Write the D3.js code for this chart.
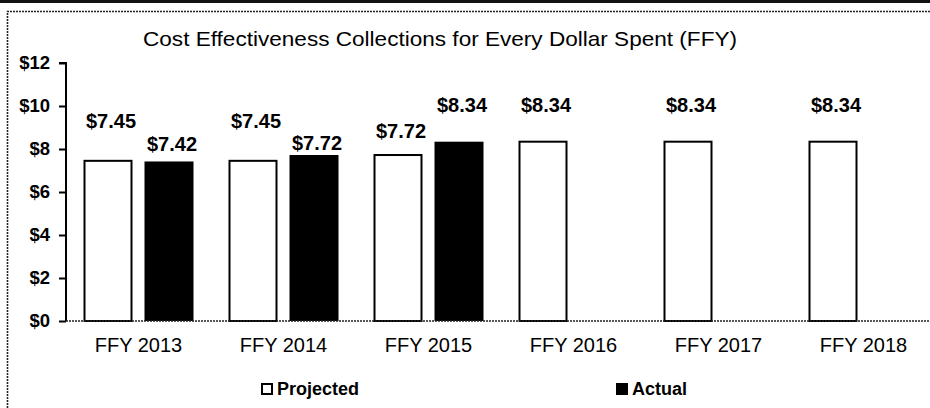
<!DOCTYPE html>
<html>
<head>
<meta charset="utf-8">
<script src="https://cdn.jsdelivr.net/npm/d3@7"></script>
<style>
  html, body { margin: 0; padding: 0; background: #fff; }
  svg { display: block; font-family: Arial, "Liberation Sans", Helvetica, sans-serif; }
</style>
</head>
<body>
<svg id="chart" width="930" height="408"></svg>
<script>
// Cost effectiveness: collections per dollar spent, by federal fiscal year
const categories = ["FFY 2013", "FFY 2014", "FFY 2015", "FFY 2016", "FFY 2017", "FFY 2018"];
const seriesNames = ["Projected", "Actual"];
const projected = [7.45, 7.45, 7.72, 8.34, 8.34, 8.34];
const actual = [7.42, 7.72, 8.34, null, null, null];
const yTickValues = [0, 2, 4, 6, 8, 10, 12];
const titleText = "Cost Effectiveness Collections for Every Dollar Spent (FFY)";

// How far each value label sits above its bar (px), per series
const labelRaise = {
  Projected: [33, 33, 17, 30, 30, 30],
  Actual: [10, 5, 30, 0, 0, 0]
};

const W = 930, H = 408;
const plot = { left: 66, right: 936, top: 63, bottom: 321 };

const svg = d3.select("#chart");

// Page furniture: dark rule at the top and the dotted chart frame
svg.append("rect").attr("x", 0).attr("y", 0).attr("width", W).attr("height", 3).attr("fill", "#111");
svg.append("path")
  .attr("d", `M7.5,${H} L7.5,11.5 L${W},11.5`)
  .attr("fill", "none").attr("stroke", "#222").attr("stroke-width", 1.6)
  .attr("stroke-dasharray", "2 1");

// Scales
const x0 = d3.scaleBand().domain(categories).range([plot.left, plot.right])
  .paddingInner(35 / 145).paddingOuter(17.5 / 145);
const x1 = d3.scaleBand().domain(seriesNames).range([0, x0.bandwidth()])
  .paddingInner(12 / 61).paddingOuter(0);
const y = d3.scaleLinear().domain([0, 12]).range([plot.bottom, plot.top]);

// Title
svg.append("text")
  .attr("x", 143).attr("y", 46)
  .attr("font-size", 21).attr("fill", "#000")
  .attr("textLength", 594).attr("lengthAdjust", "spacingAndGlyphs")
  .text(titleText);

// Bars
const rows = categories.map((c, i) => ({ cat: c, i, Projected: projected[i], Actual: actual[i] }));
const groups = svg.append("g").selectAll("g").data(rows).join("g")
  .attr("transform", d => `translate(${x0(d.cat)},0)`);

groups.selectAll("rect")
  .data(d => seriesNames.filter(s => d[s] != null).map(s => ({ s, v: d[s], i: d.i })))
  .join("rect")
  .attr("x", d => x1(d.s) + (d.s === "Projected" ? 1 : 0))
  .attr("y", d => y(d.v))
  .attr("width", d => x1.bandwidth() - (d.s === "Projected" ? 2 : 0))
  .attr("height", d => y(0) - y(d.v))
  .attr("fill", d => d.s === "Projected" ? "#fff" : "#000")
  .attr("stroke", "#000")
  .attr("stroke-width", d => d.s === "Projected" ? 2 : 0);

// Value labels
groups.selectAll("text.val")
  .data(d => seriesNames.filter(s => d[s] != null).map(s => ({ s, v: d[s], i: d.i })))
  .join("text")
  .attr("class", "val")
  .attr("x", d => x1(d.s) + x1.bandwidth() / 2 + 3)
  .attr("y", d => y(d.v) - labelRaise[d.s][d.i])
  .attr("text-anchor", "middle")
  .attr("font-size", 20).attr("font-weight", "bold").attr("fill", "#000")
  .text(d => d3.format("$.2f")(d.v));

// Y axis
const yAxis = d3.axisLeft(y).tickValues(yTickValues).tickSize(7).tickPadding(9)
  .tickFormat(d => "$" + d);
const gy = svg.append("g").attr("transform", `translate(${plot.left},0)`).call(yAxis);
gy.select(".domain").attr("stroke", "#000").attr("stroke-width", 2)
  .attr("d", `M-7,${plot.top}H0V${plot.bottom}`);
gy.selectAll(".tick line").attr("stroke", "#000").attr("stroke-width", 2);
gy.selectAll(".tick text").attr("font-size", 18.5).attr("font-weight", "bold")
  .attr("fill", "#000");
gy.attr("font-family", null);

// X axis (dotted baseline)
const xAxis = d3.axisBottom(x0).tickSize(0).tickPadding(20);
const gx = svg.append("g").attr("transform", `translate(0,${plot.bottom})`).call(xAxis);
gx.select(".domain").attr("stroke", "#222").attr("stroke-width", 1.6)
  .attr("stroke-dasharray", "2 1")
  .attr("d", `M${plot.left},0H${W}`);
gx.selectAll(".tick text").attr("font-size", 20).attr("fill", "#000")
  .attr("dy", "0.55em");
gx.attr("font-family", null);

// Legend
const legend = [
  { name: "Projected", x: 261, fill: "#fff" },
  { name: "Actual", x: 616, fill: "#000" }
];
const lg = svg.append("g").selectAll("g").data(legend).join("g")
  .attr("transform", d => `translate(${d.x},383)`);
lg.append("rect").attr("x", 1).attr("y", 1).attr("width", 10).attr("height", 10)
  .attr("fill", d => d.fill).attr("stroke", "#000").attr("stroke-width", 2);
lg.append("text").attr("x", 16).attr("y", 12)
  .attr("font-size", 18).attr("font-weight", "bold").attr("fill", "#000")
  .text(d => d.name);
</script>
</body>
</html>
